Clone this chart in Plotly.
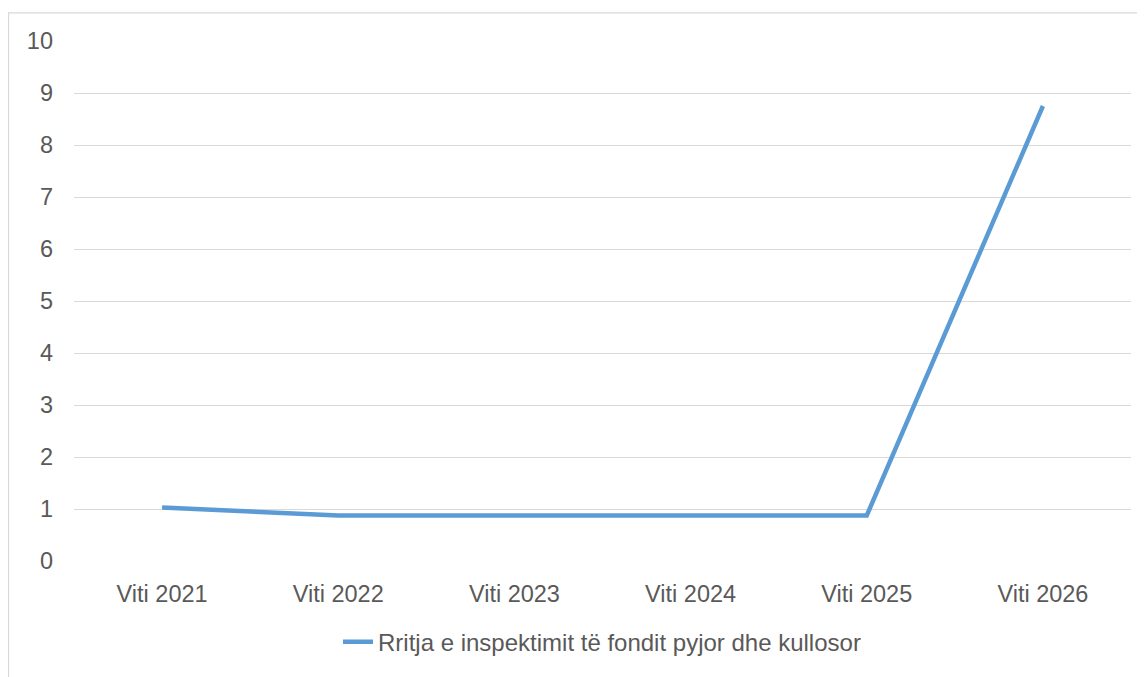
import plotly.graph_objects as go

categories = ["Viti 2021", "Viti 2022", "Viti 2023", "Viti 2024", "Viti 2025", "Viti 2026"]
values = [1.03, 0.875, 0.875, 0.875, 0.875, 8.75]
series_name = "Rritja e inspektimit të fondit pyjor dhe kullosor"
y_ticks = list(range(0, 11))

FONT = "Liberation Sans, Arial, sans-serif"
TXT = "#595959"

fig = go.Figure()
fig.add_trace(go.Scatter(
    x=categories, y=values, mode="lines", name=series_name,
    line=dict(color="#5B9BD5", width=4.5),
))

# page body has an 8px margin: figure is placed at (8, 8)
OFF = 8
W, H = 1145 - OFF, 677 - OFF
ml, mr, mt, mb = 74 - OFF, 14, 41 - OFF, 110
pw, ph = W - ml - mr, H - mt - mb

def px_x(p):
    return (p - OFF - ml) / pw

def px_y(p):
    return (H - mb - (p - OFF)) / ph

fig.update_layout(
    width=W, height=H,
    margin=dict(l=ml, r=mr, t=mt, b=mb, pad=0),
    paper_bgcolor="white", plot_bgcolor="white",
    font=dict(family=FONT, size=23.5, color=TXT),
    showlegend=True,
    legend=dict(
        orientation="h", x=px_x(602), xanchor="center",
        y=px_y(649), yanchor="middle",
        font=dict(family=FONT, size=24, color=TXT),
        bgcolor="rgba(0,0,0,0)",
    ),
    xaxis=dict(
        type="category", range=[-0.5, 5.5],
        showgrid=False, zeroline=False, showline=False, ticks="",
        tickfont=dict(family=FONT, size=23.5, color=TXT),
        ticklabelstandoff=16,
    ),
    yaxis=dict(
        range=[0, 10], tickvals=y_ticks,
        showgrid=True, gridcolor="#D9D9D9", gridwidth=1.3,
        zeroline=False, showline=False, ticks="",
        tickfont=dict(family=FONT, size=23.5, color=TXT),
        ticklabelstandoff=20,
    ),
    shapes=[dict(
        type="rect", xref="paper", yref="paper",
        x0=px_x(8.5), x1=px_x(1170), y0=px_y(700), y1=px_y(12.5),
        line=dict(color="#D9D9D9", width=1.3), fillcolor="rgba(0,0,0,0)",
        layer="below",
    )],
)

fig.write_html("out.html")
